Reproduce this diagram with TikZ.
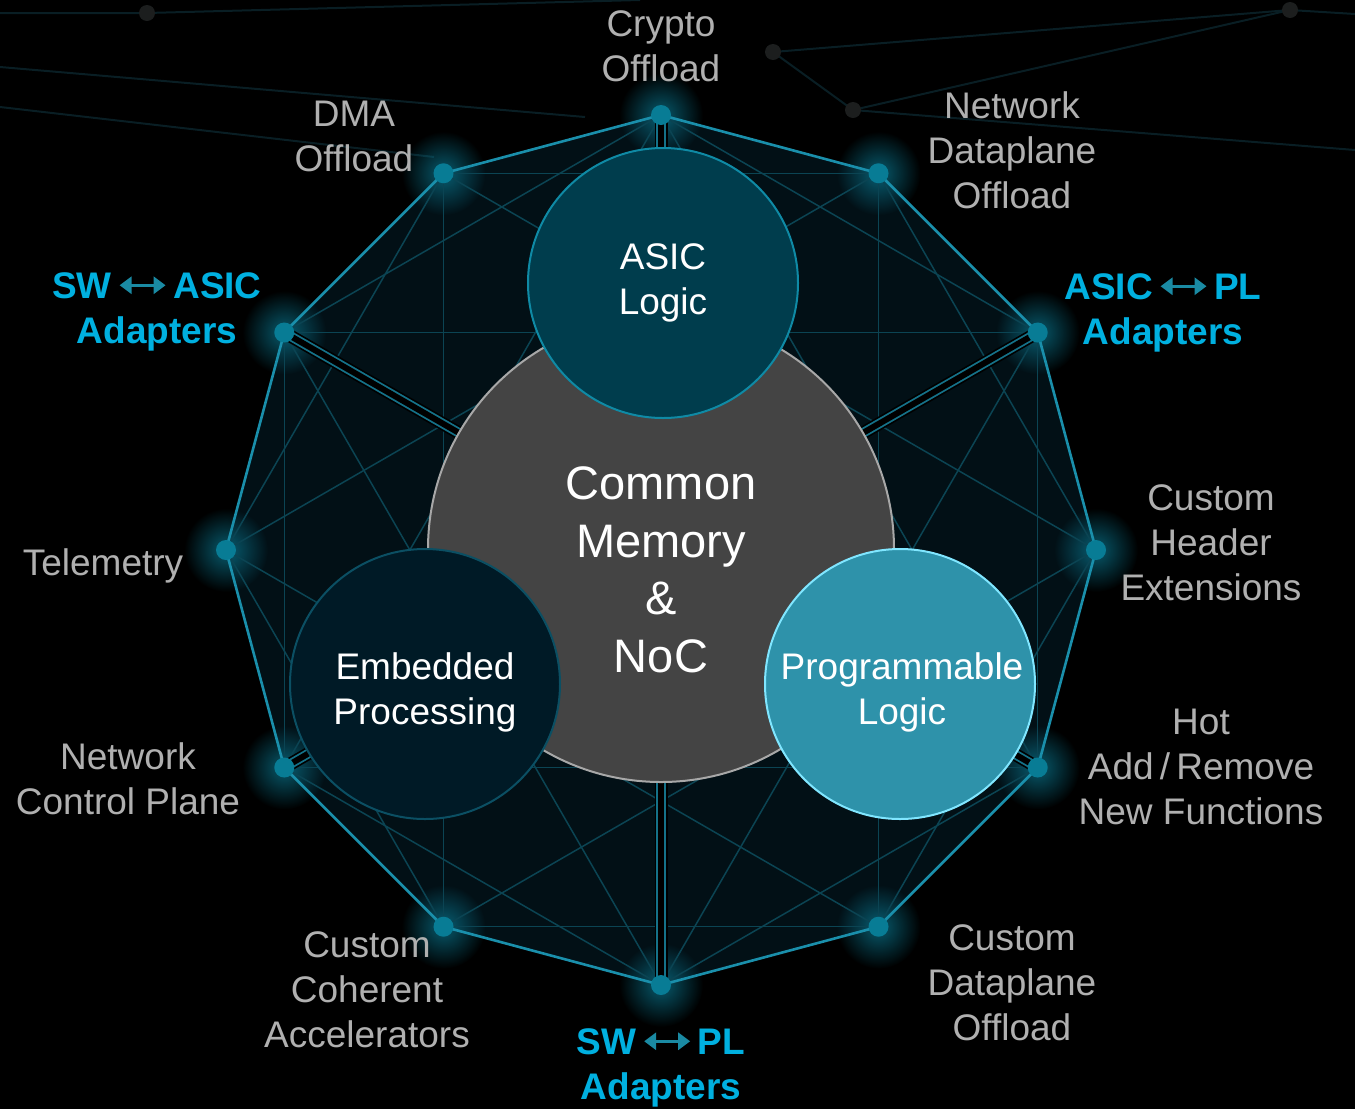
\documentclass[tikz,border=0pt]{standalone}
\usepackage{fontspec}
\setmainfont{Liberation Sans}
\usetikzlibrary{arrows.meta,calc,fadings}

\definecolor{RimTeal}{RGB}{26,143,171}
\definecolor{ChordTeal}{RGB}{11,68,83}
\definecolor{DotTeal}{RGB}{8,124,149}
\definecolor{GlowTeal}{RGB}{10,120,145}
\definecolor{MeshFill}{RGB}{2,16,22}
\definecolor{FaintLine}{RGB}{9,30,36}
\definecolor{FaintDot}{RGB}{28,30,30}
\definecolor{HubGray}{RGB}{68,68,68}
\definecolor{HubEdge}{RGB}{168,168,168}
\definecolor{AsicFill}{RGB}{0,61,77}
\definecolor{AsicEdge}{RGB}{15,138,165}
\definecolor{CpuFill}{RGB}{0,26,38}
\definecolor{CpuEdge}{RGB}{11,79,99}
\definecolor{PlFill}{RGB}{46,146,170}
\definecolor{PlEdge}{RGB}{128,230,255}
\definecolor{LabelGray}{RGB}{176,176,176}
\definecolor{AdaptCyan}{RGB}{0,176,224}
\definecolor{ArrowTeal}{RGB}{26,138,163}

\tikzfading[name=glowfade, inner color=transparent!25, outer color=transparent!100]

\tikzset{
  chord/.style={ChordTeal, line width=1.5pt},
  rim/.style={RimTeal, line width=2.6pt, line join=round},
  bus/.style={draw=RimTeal!80!black, line width=1.8pt, double=black, double distance=6pt},
  busshadow/.style={black, line width=13pt},
  faint/.style={FaintLine, line width=2pt},
  outer/.style={LabelGray, align=center, font=\fontsize{37}{45}\selectfont},
  adapter/.style={AdaptCyan, align=center, font=\bfseries\fontsize{37}{45}\selectfont},
  block/.style={circle, inner sep=0pt, minimum size=270pt, line width=2pt,
    text=white, align=center, font=\fontsize{37}{45}\selectfont},
}

% two-headed arrow between the adapter names
\newcommand{\lrarrow}{\tikz[x=1pt,y=1pt,baseline=-0.36em]
  \draw[ArrowTeal, line width=3.4pt,
    {Triangle[length=12pt,width=17pt]}-{Triangle[length=12pt,width=17pt]}]
    (0pt,0pt) -- (46pt,0pt);}

\begin{document}
\begin{tikzpicture}[x=1pt,y=-1pt,>=Latex]
  \useasboundingbox (0,0) rectangle (1355,1109);
  \fill[black] (0,0) rectangle (1355,1109);

  % faint network in the background
  \coordinate (bgA) at (147,13);
  \coordinate (bgB) at (773,52);
  \coordinate (bgC) at (853,110);
  \coordinate (bgD) at (1290,10);
  \coordinate (bgL1) at (0,13);
  \coordinate (bgL2) at (0,67);
  \coordinate (bgL3) at (0,107);
  \coordinate (bgT) at (640,0);
  \coordinate (bgR1) at (1355,150);
  \coordinate (bgR2) at (1355,14);
  \coordinate (bgE) at (585,117);
  \coordinate (bgF) at (434,157);
  \draw[faint] (bgL1) -- (bgA) -- (bgT);
  \draw[faint] (bgL2) -- (bgE);
  \draw[faint] (bgL3) -- (bgF);
  \draw[faint] (bgD) -- (bgB) -- (bgC) -- (bgR1);
  \draw[faint] (bgD) -- (bgC);
  \draw[faint] (bgD) -- (bgR2);
  \fill[FaintDot] (bgA) circle (8pt) (bgB) circle (8pt) (bgC) circle (8pt) (bgD) circle (8pt);

  \coordinate (ctr) at (661,549);
  % twelve points of the mesh, clockwise from the top
  \foreach \i in {0,...,11}
    \coordinate (v\i) at ($(661,550)+({30*\i-90}:435)$);

  \fill[MeshFill] (v0) \foreach \i in {1,...,11}{-- (v\i)} -- cycle;
  \foreach \i in {0,...,11}
    \fill[GlowTeal, path fading=glowfade] (v\i) circle (42pt);

  \foreach \i in {0,...,11}{
    \pgfmathtruncatemacro{\j}{mod(\i+2,12)}
    \pgfmathtruncatemacro{\k}{mod(\i+4,12)}
    \draw[chord] (v\i) -- (v\j);
    \draw[chord] (v\i) -- (v\k);
  }

  % adapter buses into the core
  \foreach \i in {0,2,...,10}{
    \draw[busshadow] (v\i) -- (ctr);
    \draw[bus] (v\i) -- (ctr);
  }

  \draw[rim] (v0) \foreach \i in {1,...,11}{-- (v\i)} -- cycle;
  \foreach \i in {0,...,11}
    \fill[DotTeal] (v\i) circle (10pt);

  % core blocks
  \node[circle, fill=HubGray, draw=HubEdge, line width=2pt, minimum size=466pt, inner sep=0pt] (noc) at (ctr) {};
  \node[text=white, align=center, font=\fontsize{47}{57.5}\selectfont] (noctext) at (661,570) {Common\\Memory\\\&\\NoC};
  \node[block, fill=AsicFill, draw=AsicEdge] (asic) at (663,283) {ASIC\\Logic};
  \node[block, fill=CpuFill, draw=CpuEdge] (cpu) at (425,684) {};
  \node[text=white, align=center, font=\fontsize{37}{45}\selectfont] (cputext) at (425,692) {Embedded\\Processing};
  \node[block, fill=PlFill, draw=PlEdge] (pl) at (900,684) {};
  \node[text=white, align=center, font=\fontsize{37}{45}\selectfont] (pltext) at (902,692) {Programmable\\Logic};

  % labels round the mesh
  \node[outer] (cryptolbl) at (661,46) {Crypto\\Offload};
  \node[outer] (dmalbl) at (354,136) {DMA\\Offload};
  \node[outer] (netdplbl) at (1012,150) {Network\\Dataplane\\Offload};
  \node[adapter] (swasiclbl) at (157,312) {SW\hspace{6pt}\lrarrow\hspace{6pt}ASIC\\Adapters};
  \node[adapter] (asicpllbl) at (1163,313) {ASIC\hspace{6pt}\lrarrow\hspace{6pt}PL\\Adapters};
  \node[outer] (telemlbl) at (103,566) {Telemetry};
  \node[outer] (hdrlbl) at (1211,543) {Custom\\Header\\Extensions};
  \node[outer] (netctllbl) at (128,779) {Network\\Control Plane};
  \node[outer] (hotaddlbl) at (1201,767) {Hot\\Add\,/\,Remove\\New Functions};
  \node[outer] (cohlbl) at (367,990) {Custom\\Coherent\\Accelerators};
  \node[outer] (custdplbl) at (1012,983) {Custom\\Dataplane\\Offload};
  \node[adapter] (swpllbl) at (661,1068) {SW\hspace{6pt}\lrarrow\hspace{6pt}PL\\Adapters};
\end{tikzpicture}
\end{document}
